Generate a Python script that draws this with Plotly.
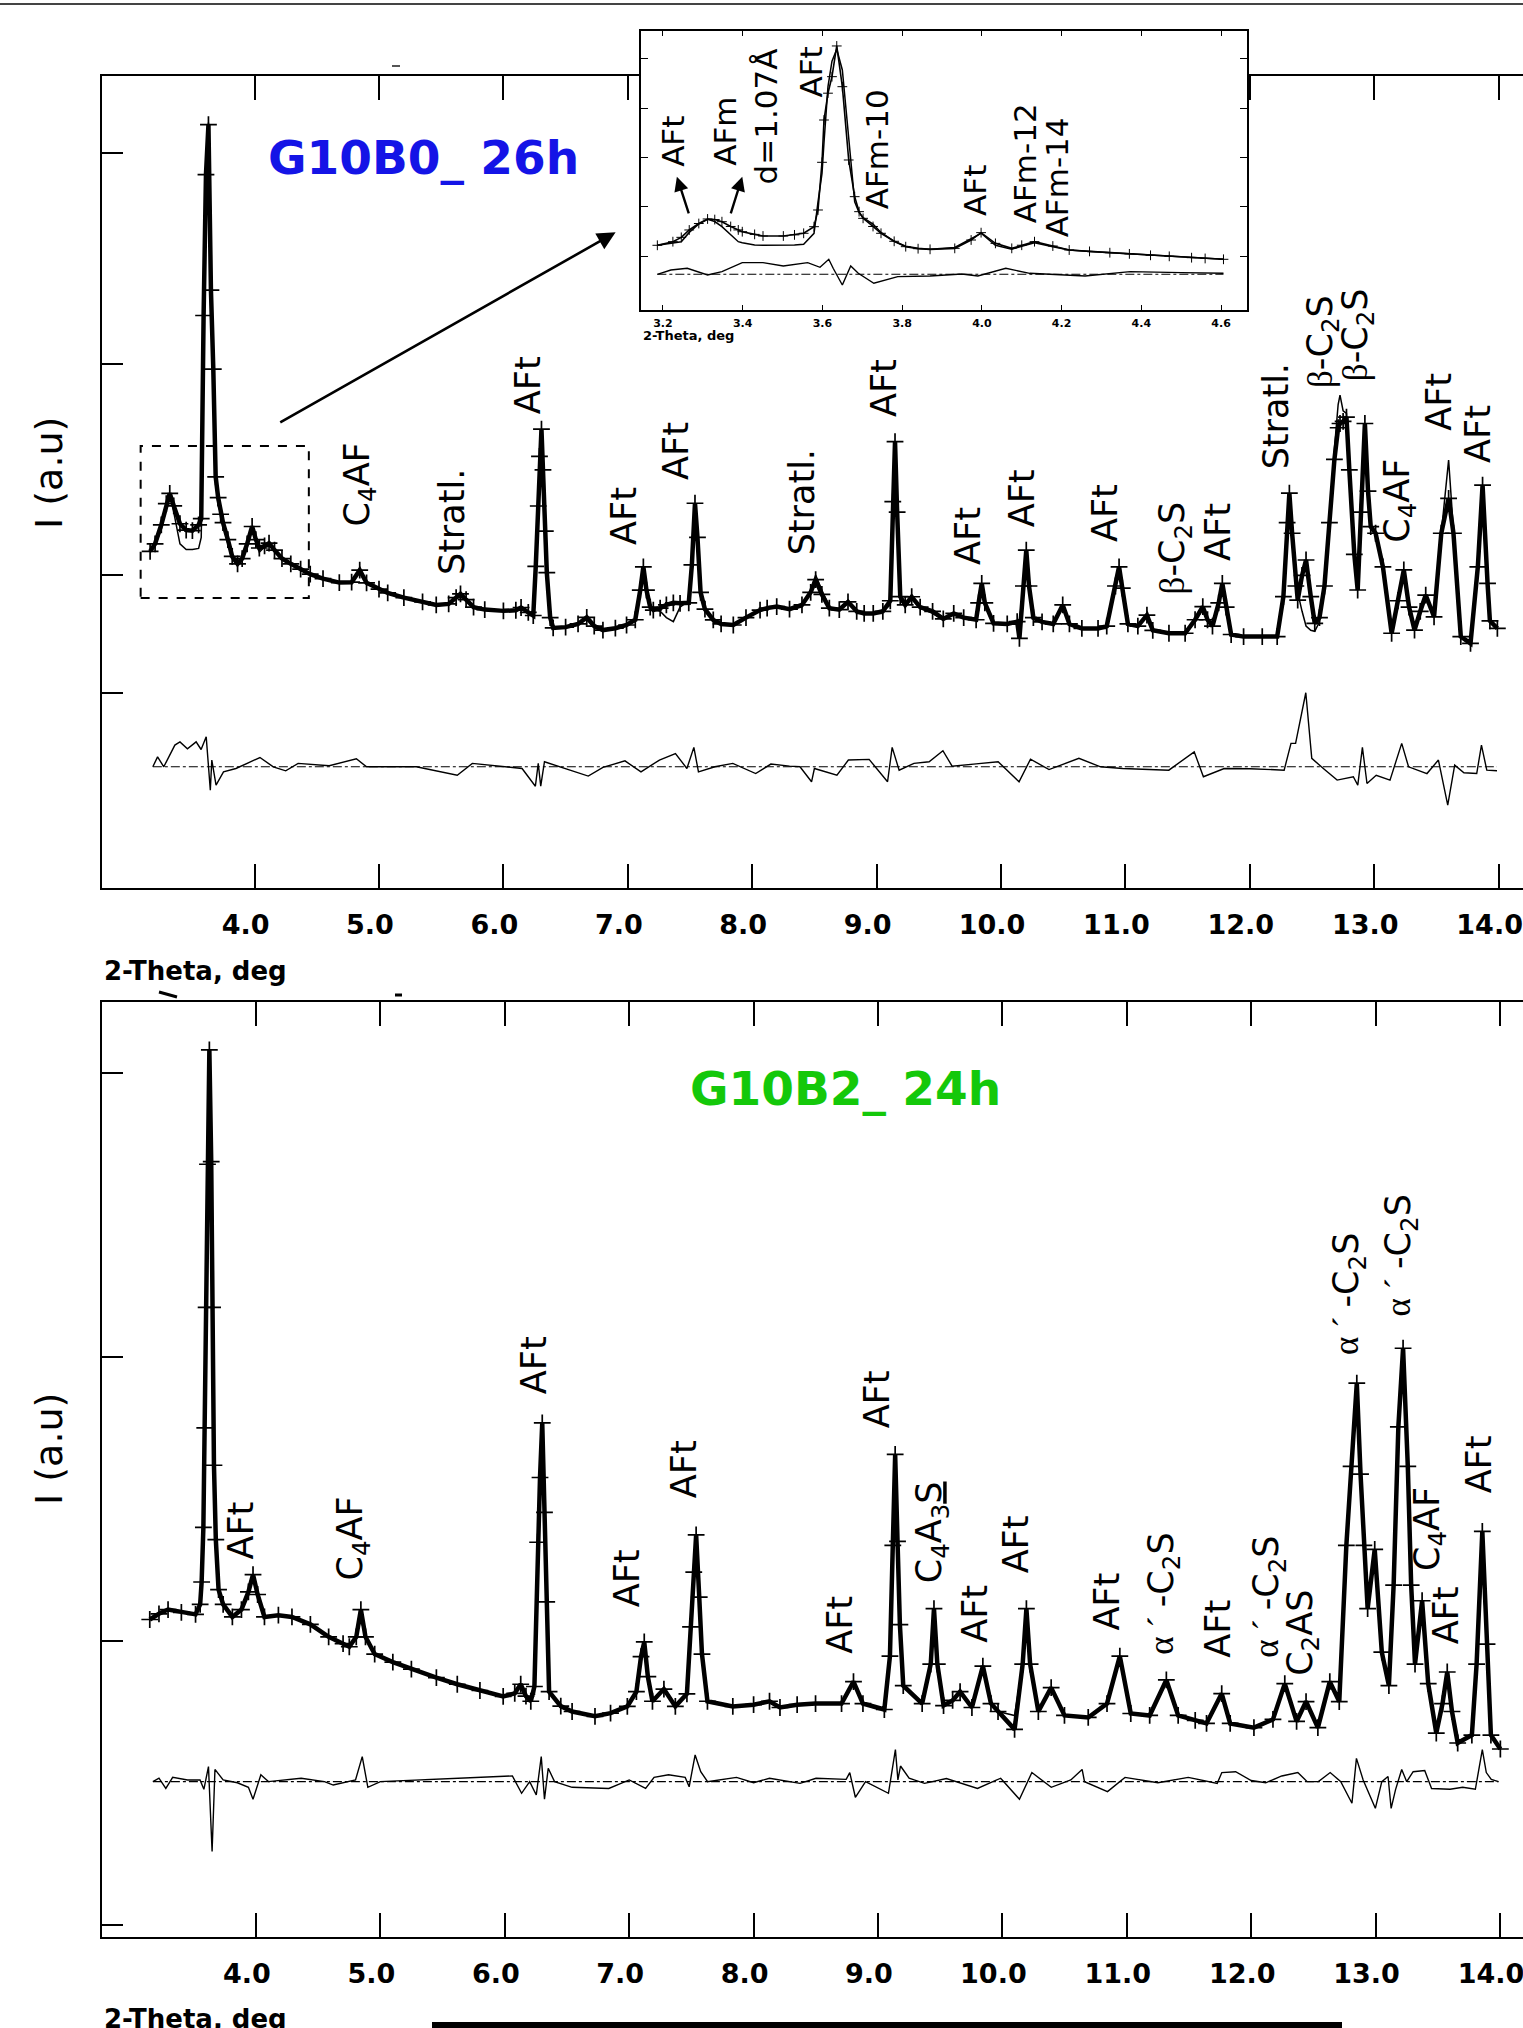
import plotly.graph_objects as go

W, H = 1523, 2028

# ---------------- G10B0_ 26h (upper panel) ----------------
TOP_2THETA = [
    3.16, 3.20, 3.25, 3.29, 3.318, 3.35, 3.40, 3.45, 3.50, 3.55,
    3.571, 3.59, 3.609, 3.629, 3.649, 3.668, 3.687, 3.707, 3.727, 3.746,
    3.785, 3.82, 3.863, 3.90, 3.94, 3.98, 4.01, 4.038, 4.08, 4.116,
    4.16, 4.22, 4.291, 4.37, 4.447, 4.55, 4.681, 4.78, 4.845, 4.90,
    5.00, 5.07, 5.20, 5.35, 5.46, 5.56, 5.62, 5.655, 5.70, 5.76,
    5.85, 6.00, 6.10, 6.142, 6.20, 6.24, 6.26, 6.28, 6.29, 6.306,
    6.318, 6.337, 6.349, 6.376, 6.40, 6.50, 6.60, 6.67, 6.73, 6.80,
    6.90, 6.99, 7.06, 7.10, 7.125, 7.15, 7.18, 7.205, 7.26, 7.31,
    7.366, 7.42, 7.49, 7.515, 7.54, 7.56, 7.585, 7.62, 7.687, 7.75,
    7.848, 7.95, 8.063, 8.12, 8.197, 8.30, 8.40, 8.47, 8.51, 8.56,
    8.62, 8.70, 8.77, 8.84, 8.90, 8.973, 9.05, 9.11, 9.13, 9.148,
    9.165, 9.19, 9.23, 9.282, 9.35, 9.45, 9.536, 9.62, 9.70, 9.80,
    9.82, 9.845, 9.87, 9.94, 10.05, 10.13, 10.148, 10.18, 10.203, 10.225,
    10.26, 10.33, 10.42, 10.496, 10.55, 10.65, 10.78, 10.85, 10.92, 10.949,
    10.975, 11.02, 11.10, 11.173, 11.22, 11.35, 11.48, 11.56, 11.622, 11.66,
    11.70, 11.75, 11.779, 11.81, 11.85, 11.95, 12.10, 12.22, 12.27, 12.30,
    12.318, 12.34, 12.37, 12.385, 12.42, 12.452, 12.49, 12.522, 12.56, 12.60,
    12.64, 12.68, 12.71, 12.725, 12.75, 12.777, 12.80, 12.84, 12.867, 12.89,
    12.925, 12.95, 12.972, 13.011, 13.07, 13.14, 13.19, 13.238, 13.28, 13.324,
    13.37, 13.414, 13.481, 13.539, 13.598, 13.637, 13.696, 13.774, 13.833, 13.871,
    13.911, 13.93, 13.99,
]
TOP_OBS = [
    1114, 1150, 1240, 1340, 1389, 1330, 1245, 1215, 1212, 1240,
    1269, 2232, 2900, 3137, 2352, 1978, 1467, 1369, 1290, 1250,
    1170, 1090, 1055, 1080, 1150, 1232, 1170, 1130, 1140, 1153,
    1120, 1080, 1055, 1030, 1006, 985, 966, 968, 1025, 965,
    935, 917, 895, 875, 860, 865, 895, 913, 885, 850,
    838, 832, 835, 848, 825, 810, 1043, 1329, 1564, 1693,
    1500, 1210, 1013, 800, 751, 755, 770, 801, 760, 741,
    750, 765, 790, 930, 1041, 930, 850, 836, 845, 860,
    870, 868, 870, 1050, 1342, 1180, 920, 840, 789, 770,
    765, 800, 836, 845, 852, 840, 860, 920, 980, 910,
    845, 838, 875, 830, 820, 820, 830, 880, 1350, 1634,
    1300, 900, 860, 899, 850, 830, 794, 820, 800, 790,
    870, 962, 870, 773, 770, 781, 702, 950, 1120, 950,
    800, 780, 770, 860, 770, 749, 749, 760, 950, 1041,
    940, 770, 760, 812, 740, 726, 726, 790, 852, 790,
    760, 870, 962, 850, 720, 710, 710, 710, 900, 1250,
    1390, 1200, 950, 883, 1000, 1073, 900, 773, 800, 950,
    1250, 1550, 1700, 1720, 1730, 1750, 1500, 1100, 931, 1300,
    1720, 1400, 1231, 1200, 1041, 726, 880, 1026, 850, 741,
    830, 907, 804, 1200, 1365, 1200, 710, 678, 1041, 1428,
    962, 785, 749,
]
TOP_CALC = [
    1110, 1140, 1220, 1330, 1385, 1300, 1150, 1123, 1123, 1128,
    1180, 2100, 2850, 3147, 2450, 1900, 1450, 1330, 1300, 1240,
    1150, 1090, 1055, 1075, 1140, 1225, 1160, 1110, 1135, 1150,
    1115, 1075, 1055, 1030, 1006, 985, 966, 965, 1020, 960,
    935, 917, 895, 875, 860, 862, 900, 920, 885, 850,
    838, 832, 835, 850, 825, 810, 1000, 1300, 1550, 1690,
    1480, 1220, 1000, 790, 751, 755, 770, 801, 765, 741,
    750, 765, 790, 920, 1040, 930, 850, 836, 830, 800,
    781, 850, 880, 1040, 1294, 1150, 900, 840, 789, 770,
    765, 800, 836, 845, 852, 840, 850, 930, 1002, 930,
    850, 838, 875, 830, 820, 820, 830, 860, 1300, 1531,
    1280, 880, 860, 890, 845, 820, 790, 820, 800, 790,
    860, 962, 860, 773, 770, 781, 790, 940, 1120, 960,
    800, 780, 770, 860, 770, 749, 749, 760, 940, 1041,
    940, 770, 760, 812, 740, 726, 726, 780, 840, 785,
    760, 860, 962, 850, 720, 710, 710, 710, 880, 1230,
    1326, 1250, 1000, 920, 830, 760, 740, 735, 780, 950,
    1240, 1600, 1810, 1855, 1780, 1768, 1500, 1100, 931, 1250,
    1705, 1400, 1231, 1200, 1041, 726, 870, 1026, 850, 741,
    830, 907, 804, 1200, 1547, 1200, 710, 678, 1041, 1326,
    962, 785, 749,
]
TOP_DIFF_2THETA = [
    3.182, 3.22, 3.27, 3.359, 3.40, 3.46, 3.53, 3.57, 3.611, 3.644,
    3.656, 3.67, 3.69, 3.75, 3.85, 4.043, 4.15, 4.25, 4.35, 4.60,
    4.818, 4.90, 5.30, 5.629, 5.75, 6.15, 6.257, 6.28, 6.30, 6.33,
    6.45, 6.682, 6.80, 6.977, 7.106, 7.254, 7.383, 7.475, 7.531, 7.568,
    7.70, 7.844, 8.028, 8.15, 8.30, 8.384, 8.477, 8.50, 8.681, 8.773,
    8.94, 9.088, 9.125, 9.181, 9.30, 9.422, 9.533, 9.607, 9.80, 9.977,
    10.145, 10.237, 10.386, 10.626, 10.80, 10.978, 11.349, 11.553, 11.627, 11.794,
    12.0, 12.276, 12.331, 12.368, 12.45, 12.498, 12.591, 12.702, 12.832, 12.868,
    12.905, 12.942, 13.016, 13.127, 13.221, 13.276, 13.424, 13.516, 13.591, 13.647,
    13.721, 13.824, 13.862, 13.905, 13.987,
]
TOP_DIFF = [
    0, 47, 0, 103, 118, 85, 118, 82, 142, -111,
    32, -16, -87, -24, -8, 44, 0, -19, 16, 5,
    38, 0, 0, -40, 16, -8, -92, 16, -92, 24,
    0, -44, -3, 28, -24, 32, 63, -8, 92, -24,
    0, 16, -32, 13, 3, 0, -71, -8, -40, 32,
    35, -71, 92, -16, 16, 24, 76, 3, 14, 24,
    -71, 36, -13, 40, 0, -8, -16, 71, -47, -8,
    -9, -16, 111, 111, 351, 40, -8, -63, -47, -87,
    92, -79, -40, -63, 111, 0, -32, 32, -182, 8,
    -28, -32, 103, -16, -19,
]
BETA = "<span style=\"font-family:'Liberation Serif'\">β</span>-C<sub>2</sub>S"
TOP_LABEL_TEXT = ["C<sub>4</sub>AF", "Stratl.", "AFt", "AFt", "AFt", "Stratl.", "AFt", "AFt",
                  "AFt", "AFt", BETA, "AFt", "Stratl.", BETA, BETA, "C<sub>4</sub>AF", "AFt", "AFt"]
TOP_LABEL_X = [4.845, 5.587, 6.198, 6.969, 7.387, 8.398, 9.059, 9.734, 10.171, 10.836,
               11.397, 11.744, 12.209, 12.58, 12.862, 13.206, 13.519, 13.833]
TOP_LABEL_Y = [1430, 1253, 1902, 1282, 1590, 1345, 1888, 1187, 1367, 1296,
               1132, 1206, 1753, 2111, 2139, 1353, 1822, 1670]
TOP_YTICKS = [444, 1000, 2000, 3000]

# ---------------- G10B2_ 24h (lower panel) ----------------
BOT_2THETA = [
    3.146, 3.22, 3.293, 3.40, 3.514, 3.551, 3.563, 3.577, 3.588, 3.599,
    3.61, 3.625, 3.64, 3.651, 3.662, 3.677, 3.699, 3.736, 3.81, 3.883,
    3.939, 3.976, 4.013, 4.068, 4.18, 4.289, 4.437, 4.584, 4.70, 4.75,
    4.806, 4.843, 4.88, 4.954, 5.10, 5.249, 5.45, 5.618, 5.80, 5.987,
    6.08, 6.128, 6.17, 6.209, 6.238, 6.264, 6.283, 6.301, 6.319, 6.337,
    6.356, 6.45, 6.541, 6.725, 6.85, 6.985, 7.058, 7.095, 7.121, 7.15,
    7.187, 7.279, 7.371, 7.464, 7.493, 7.519, 7.538, 7.563, 7.585, 7.629,
    7.833, 8.0, 8.128, 8.212, 8.35, 8.498, 8.707, 8.803, 8.879, 9.051,
    9.096, 9.119, 9.138, 9.157, 9.176, 9.203, 9.355, 9.424, 9.45, 9.477,
    9.527, 9.60, 9.66, 9.755, 9.843, 9.908, 9.965, 10.098, 10.163, 10.193,
    10.223, 10.289, 10.392, 10.499, 10.69, 10.841, 10.944, 11.032, 11.184, 11.318,
    11.413, 11.55, 11.641, 11.763, 11.831, 12.022, 12.175, 12.27, 12.365, 12.441,
    12.536, 12.632, 12.708, 12.765, 12.803, 12.849, 12.879, 12.906, 12.936, 12.993,
    13.05, 13.107, 13.145, 13.183, 13.221, 13.259, 13.286, 13.317, 13.374, 13.423,
    13.488, 13.538, 13.576, 13.614, 13.66, 13.774, 13.812, 13.858, 13.896, 13.927,
    14.003,
]
BOT_OBS = [
    1075, 1095, 1110, 1100, 1093, 1128, 1207, 1399, 1750, 2174,
    2678, 3081, 2687, 2174, 1618, 1356, 1180, 1128, 1084, 1110,
    1172, 1233, 1163, 1084, 1090, 1084, 1058, 1014, 990, 979,
    1014, 1110, 1014, 953, 925, 900, 870, 847, 825, 804,
    815, 847, 805, 787, 839, 1347, 1575, 1767, 1452, 1137,
    821, 770, 751, 734, 745, 769, 821, 944, 996, 874,
    787, 830, 769, 813, 1049, 1242, 1373, 1154, 953, 787,
    769, 775, 787, 765, 775, 779, 779, 856, 779, 758,
    946, 1336, 1656, 1350, 1057, 842, 779, 918, 1113, 918,
    772, 790, 821, 765, 911, 779, 751, 688, 918, 1113,
    918, 751, 835, 737, 730, 779, 946, 744, 737, 862,
    737, 720, 709, 814, 709, 694, 723, 849, 716, 786,
    694, 856, 786, 1336, 1614, 1907, 1587, 1336, 1113, 1322,
    960, 842, 1196, 1753, 2030, 1614, 1196, 918, 1141, 849,
    675, 779, 890, 751, 640, 668, 918, 1385, 988, 668,
    619,
]
BOT_CALC = [
    1075, 1095, 1110, 1100, 1093, 1128, 1207, 1399, 1750, 2174,
    2678, 3073, 2687, 2174, 1618, 1356, 1180, 1128, 1084, 1110,
    1172, 1233, 1163, 1084, 1090, 1084, 1058, 1014, 990, 979,
    1014, 1075, 1014, 953, 925, 900, 870, 847, 825, 804,
    815, 847, 805, 787, 839, 1347, 1575, 1627, 1452, 1137,
    821, 770, 751, 734, 745, 769, 821, 944, 996, 874,
    787, 830, 769, 813, 1049, 1242, 1277, 1154, 953, 787,
    769, 775, 787, 765, 775, 779, 779, 856, 779, 758,
    946, 1336, 1538, 1350, 1057, 842, 779, 918, 1078, 918,
    772, 790, 821, 765, 911, 779, 751, 737, 918, 1092,
    918, 751, 835, 737, 730, 779, 946, 744, 737, 862,
    737, 720, 709, 814, 709, 694, 723, 849, 716, 786,
    694, 856, 786, 1336, 1614, 1837, 1587, 1336, 1113, 1322,
    960, 842, 1196, 1753, 2018, 1614, 1196, 918, 1141, 849,
    675, 779, 890, 751, 640, 668, 918, 1266, 988, 668,
    619,
]
BOT_DIFF_2THETA = [
    3.171, 3.22, 3.275, 3.33, 3.45, 3.55, 3.581, 3.618, 3.647, 3.67,
    3.736, 3.85, 3.939, 3.976, 4.039, 4.10, 4.363, 4.55, 4.621, 4.80,
    4.854, 4.899, 5.0, 5.803, 6.061, 6.135, 6.20, 6.253, 6.293, 6.319,
    6.349, 6.40, 6.541, 6.836, 7.0, 7.132, 7.20, 7.316, 7.45, 7.482,
    7.53, 7.575, 7.63, 7.863, 8.0, 8.128, 8.373, 8.502, 8.744, 8.773,
    8.818, 8.90, 9.084, 9.14, 9.16, 9.181, 9.25, 9.374, 9.55, 9.80,
    9.986, 10.137, 10.237, 10.393, 10.55, 10.641, 10.66, 10.845, 10.986, 11.25,
    11.494, 11.727, 11.764, 11.875, 12.0, 12.117, 12.246, 12.375, 12.45, 12.54,
    12.635, 12.72, 12.81, 12.846, 12.90, 12.998, 13.05, 13.1, 13.125, 13.16,
    13.21, 13.25, 13.302, 13.395, 13.45, 13.599, 13.70, 13.802, 13.858, 13.89,
    13.93, 13.988,
]
BOT_DIFF = [
    0, 12, -24, 15, 6, 6, -27, 53, -246, 43,
    6, -4, -20, -62, 24, 0, 12, 0, -12, 6,
    88, -20, 0, 15, 20, -41, 0, -47, 88, -62,
    47, 0, -20, -24, 6, -24, 15, 24, 15, -18,
    94, 35, 0, 15, -4, 12, -6, 12, 8, 32,
    -55, 0, -41, 113, 6, 55, 12, -6, 11, -24,
    12, -62, 32, -20, 6, 43, 0, -35, 15, -4,
    15, -6, 32, 35, 4, -4, 20, 32, 0, 0,
    32, 0, -76, 82, 6, -94, 0, 18, -94, -29,
    43, 0, 35, 39, -24, -27, -20, -27, 113, 32,
    8, 0,
]
ALPHA = "<span style=\"font-family:'Liberation Serif'\">α ´ </span>-C<sub>2</sub>S"
C4A3S = "C<sub>4</sub>A<sub>3</sub><span style=\"text-decoration:underline\">S</span>"
BOT_LABEL_TEXT = ["AFt", "C<sub>4</sub>AF", "AFt", "AFt", "AFt", "AFt", "AFt", C4A3S, "AFt", "AFt",
                  "AFt", ALPHA, "AFt", ALPHA, "C<sub>2</sub>AS", ALPHA, ALPHA, "C<sub>4</sub>AF", "AFt", "AFt"]
BOT_LABEL_X = [3.883, 4.779, 6.236, 6.984, 7.44, 8.688, 8.994, 9.432, 9.774, 10.108,
               10.841, 11.298, 11.736, 12.144, 12.411, 12.784, 13.203, 13.432, 13.565, 13.831]
BOT_LABEL_Y = [1390, 1360, 1971, 1221, 1604, 1057, 1851, 1381, 1096, 1339,
               1138, 1165, 1044, 1155, 1029, 2220, 2356, 1395, 1089, 1621]
BOT_YTICKS = [0, 1000, 2000, 3000]

# ---------------- inset (zoom of 3.2-4.6 deg, G10B0) ----------------
INSET_2THETA = [
    3.186, 3.225, 3.246, 3.266, 3.290, 3.312, 3.330, 3.348, 3.370, 3.389,
    3.399, 3.43, 3.451, 3.502, 3.53, 3.553, 3.579, 3.589, 3.599, 3.604,
    3.614, 3.624, 3.636, 3.65, 3.666, 3.681, 3.692, 3.702, 3.727, 3.747,
    3.78, 3.809, 3.84, 3.87, 3.932, 3.973, 3.998, 4.034, 4.075, 4.10,
    4.132, 4.178, 4.219, 4.27, 4.321, 4.37, 4.423, 4.47, 4.526, 4.56,
    4.606,
]
INSET_OBS = [
    219, 292, 380, 529, 660, 752, 740, 697, 600, 530,
    494, 440, 407, 407, 430, 462, 596, 934, 1900, 2757,
    3300, 3635, 4257, 3432, 1947, 1204, 900, 765, 600, 462,
    300, 191, 150, 137, 157, 326, 475, 258, 157, 220,
    292, 204, 123, 95, 69, 45, 16, -5, -32, -48,
    -65,
]
INSET_CALC = [
    219, 260, 292, 480, 650, 745, 700, 596, 430, 292,
    270, 225, 222, 219, 225, 240, 462, 1100, 1677, 2300,
    3432, 3950, 4189, 3770, 2400, 1100, 880, 780, 650, 480,
    300, 200, 160, 137, 175, 350, 462, 220, 140, 200,
    272, 191, 123, 95, 69, 45, 16, -5, -32, -48,
    -65,
]
INSET_DIFF_2THETA = [3.186, 3.22, 3.261, 3.312, 3.348, 3.399, 3.451, 3.502, 3.563, 3.594,
                     3.616, 3.627, 3.65, 3.671, 3.69, 3.729, 3.789, 3.87, 3.95, 3.99,
                     4.06, 4.12, 4.259, 4.372, 4.50, 4.606]
INSET_DIFF = [0, 87, 122, -14, 55, 237, 237, 168, 237, 142,
              304, 122, -217, 168, 20, -182, -47, -34, 6, -34,
              122, 20, -34, 55, 34, 20]
INSET_LABEL_TEXT = ["AFt", "AFm", "d=1.07Å", "AFt", "AFm-10", "AFt", "AFm-12", "AFm-14"]
INSET_LABEL_X = [3.225, 3.356, 3.458, 3.571, 3.737, 3.983, 4.108, 4.188]
INSET_LABEL_Y = [2332, 2520, 2824, 3736, 2166, 1323, 1880, 1592]
INSET_XTICKS = [3.2, 3.4, 3.6, 3.8, 4.0, 4.2, 4.4, 4.6]
INSET_YTICKS = [0, 1000, 2000, 3000, 4000]

MAIN_XTICKS = [4, 5, 6, 7, 8, 9, 10, 11, 12, 13, 14]

# offsets at which the difference curves are drawn
TOP_DIFF_OFFSET = 93
BOT_DIFF_OFFSET = 504
INSET_DIFF_OFFSET = -369

BLACK = "#000000"
fig = go.Figure()


def add_pattern(xs, obs, calc, dxs, diff, off, xa, ya, msize, obs_lw, mlw):
    fig.add_trace(go.Scatter(
        x=xs, y=obs, mode="lines+markers", xaxis=xa, yaxis=ya,
        line=dict(color=BLACK, width=obs_lw),
        marker=dict(symbol="cross-thin", size=msize, color=BLACK,
                    line=dict(color=BLACK, width=mlw)),
        hoverinfo="skip"))
    fig.add_trace(go.Scatter(
        x=xs, y=calc, mode="lines", xaxis=xa, yaxis=ya,
        line=dict(color=BLACK, width=1.5), hoverinfo="skip"))
    fig.add_trace(go.Scatter(
        x=[dxs[0], dxs[-1]], y=[off, off], mode="lines", xaxis=xa, yaxis=ya,
        line=dict(color=BLACK, width=1.1, dash="dashdot"), hoverinfo="skip"))
    fig.add_trace(go.Scatter(
        x=dxs, y=[d + off for d in diff], mode="lines", xaxis=xa, yaxis=ya,
        line=dict(color=BLACK, width=1.4), hoverinfo="skip"))


add_pattern(TOP_2THETA, TOP_OBS, TOP_CALC, TOP_DIFF_2THETA, TOP_DIFF, TOP_DIFF_OFFSET,
            "x", "y", 12, 4.5, 1.7)
add_pattern(BOT_2THETA, BOT_OBS, BOT_CALC, BOT_DIFF_2THETA, BOT_DIFF, BOT_DIFF_OFFSET,
            "x2", "y2", 12, 4.5, 1.7)
add_pattern(INSET_2THETA, INSET_OBS, INSET_CALC, INSET_DIFF_2THETA, INSET_DIFF, INSET_DIFF_OFFSET,
            "x3", "y3", 7, 1.6, 1.0)

TICKFONT = dict(family="DejaVu Sans", size=27, color=BLACK, weight="bold")
XDOM = [102 / W, 1.0]


def main_xaxis(rng, anchor):
    return dict(domain=XDOM, range=rng, anchor=anchor, tickmode="array",
                tickvals=MAIN_XTICKS, ticktext=[f"{v:.1f}" for v in MAIN_XTICKS],
                ticks="inside", ticklen=24, tickwidth=2, tickcolor=BLACK,
                showline=True, linewidth=2, linecolor=BLACK, mirror="ticks",
                showgrid=False, zeroline=False, tickfont=TICKFONT,
                ticklabelshift=-9, ticklabelstandoff=12, ticklabeloverflow="allow")


def main_yaxis(dom, rng, anchor, tv):
    return dict(domain=dom, range=rng, anchor=anchor, tickmode="array", tickvals=tv,
                ticks="inside", ticklen=21, tickwidth=2, tickcolor=BLACK,
                showticklabels=False, showline=True, linewidth=2, linecolor=BLACK,
                showgrid=False, zeroline=False)


fig.update_layout(
    width=W, height=H, autosize=False,
    margin=dict(l=0, r=0, t=0, b=0, pad=0),
    paper_bgcolor="white", plot_bgcolor="white", showlegend=False,
    xaxis=main_xaxis([2.7733, 14.196], "y"),
    yaxis=main_yaxis([1 - 887.7 / H, 1 - 76 / H], [-480, 3367], "x", TOP_YTICKS),
    xaxis2=main_xaxis([2.762, 14.185], "y2"),
    yaxis2=main_yaxis([1 - 1936.7 / H, 1 - 1001.5 / H], [-42, 3251], "x2", BOT_YTICKS),
    xaxis3=dict(domain=[641 / W, 1247 / W], range=[3.145, 4.665], anchor="y3",
                tickmode="array", tickvals=INSET_XTICKS,
                ticktext=[f"{v:.1f}" for v in INSET_XTICKS],
                ticks="inside", ticklen=5, tickwidth=1.2, tickcolor=BLACK,
                showline=True, linewidth=1.5, linecolor=BLACK, mirror="ticks",
                showgrid=False, zeroline=False,
                tickfont=dict(family="DejaVu Sans", size=11, color=BLACK, weight="bold"),
                ticklabelstandoff=2),
    yaxis3=dict(domain=[1 - 310 / H, 1 - 31 / H], range=[-1092, 4560], anchor="x3",
                tickmode="array", tickvals=INSET_YTICKS,
                ticks="inside", ticklen=7, tickwidth=1.2, tickcolor=BLACK,
                showticklabels=False, showline=True, linewidth=1.5, linecolor=BLACK,
                mirror="ticks", showgrid=False, zeroline=False),
)

LABEL_FONT = dict(family="DejaVu Sans", size=35, color=BLACK)
for t, x, y in zip(TOP_LABEL_TEXT, TOP_LABEL_X, TOP_LABEL_Y):
    fig.add_annotation(text=t, x=x, y=y, xref="x", yref="y", textangle=-90,
                       xanchor="center", yanchor="middle", showarrow=False, font=LABEL_FONT)
for t, x, y in zip(BOT_LABEL_TEXT, BOT_LABEL_X, BOT_LABEL_Y):
    fig.add_annotation(text=t, x=x, y=y, xref="x2", yref="y2", textangle=-90,
                       xanchor="center", yanchor="middle", showarrow=False, font=LABEL_FONT)
for t, x, y in zip(INSET_LABEL_TEXT, INSET_LABEL_X, INSET_LABEL_Y):
    fig.add_annotation(text=t, x=x, y=y, xref="x3", yref="y3", textangle=-90,
                       xanchor="center", yanchor="middle", showarrow=False,
                       font=dict(family="DejaVu Sans", size=31, color=BLACK))

# arrows inside the inset
fig.add_annotation(x=3.235, y=1609, ax=3.266, ay=833, xref="x3", yref="y3",
                   axref="x3", ayref="y3", text="", showarrow=True,
                   arrowhead=2, arrowsize=1.2, arrowwidth=2.4, arrowcolor=BLACK)
fig.add_annotation(x=3.399, y=1609, ax=3.369, ay=833, xref="x3", yref="y3",
                   axref="x3", ayref="y3", text="", showarrow=True,
                   arrowhead=2, arrowsize=1.2, arrowwidth=2.4, arrowcolor=BLACK)
# arrow from the boxed region to the inset
fig.add_annotation(x=6.902, y=2626, ax=4.194, ay=1721, xref="x", yref="y",
                   axref="x", ayref="y", text="", showarrow=True,
                   arrowhead=2, arrowsize=1.4, arrowwidth=2.6, arrowcolor=BLACK)

# titles
fig.add_annotation(text="G10B0_ 26h", x=423 / W, y=1 - 158 / H, xref="paper", yref="paper",
                   xanchor="center", yanchor="middle", showarrow=False,
                   font=dict(family="DejaVu Sans", size=47, color="#1414e6", weight="bold"))
fig.add_annotation(text="G10B2_ 24h", x=845.5 / W, y=1 - 1088 / H, xref="paper", yref="paper",
                   xanchor="center", yanchor="middle", showarrow=False,
                   font=dict(family="DejaVu Sans", size=47, color="#14c80a", weight="bold"))
for yc in (1 - 473 / H, 1 - 1449 / H):
    fig.add_annotation(text="I (a.u)", x=49 / W, y=yc, xref="paper", yref="paper",
                       xanchor="center", yanchor="middle", textangle=-90, showarrow=False,
                       font=dict(family="DejaVu Sans", size=38, color=BLACK))
for yc in (1 - 971 / H, 1 - 2019 / H):
    fig.add_annotation(text="2-Theta, deg", x=102 / W, y=yc, xref="paper", yref="paper",
                       xanchor="left", yanchor="middle", showarrow=False,
                       font=dict(family="DejaVu Sans", size=26, color=BLACK, weight="bold"))
fig.add_annotation(text="2-Theta, deg", x=641 / W, y=1 - 336 / H, xref="paper", yref="paper",
                   xanchor="left", yanchor="middle", showarrow=False,
                   font=dict(family="DejaVu Sans", size=13, color=BLACK, weight="bold"))

# dashed box marking the zoomed region
fig.add_shape(type="rect", xref="x", yref="y", x0=3.084, x1=4.436, y0=893, y1=1613,
              line=dict(color=BLACK, width=2, dash="dash"))
# page frame remnants
fig.add_shape(type="line", xref="paper", yref="paper", x0=0, x1=1, y0=1 - 4 / H, y1=1 - 4 / H,
              line=dict(color="#444444", width=2))
fig.add_shape(type="rect", xref="paper", yref="paper", x0=432 / W, x1=1342 / W, y0=0, y1=6 / H,
              line=dict(width=0), fillcolor=BLACK)
fig.add_shape(type="line", xref="paper", yref="paper", x0=392 / W, x1=400 / W,
              y0=1 - 66 / H, y1=1 - 66 / H, line=dict(color="#555555", width=2))
fig.add_shape(type="line", xref="paper", yref="paper", x0=159 / W, x1=177 / W,
              y0=1 - 992 / H, y1=1 - 997 / H, line=dict(color=BLACK, width=3))
fig.add_shape(type="line", xref="paper", yref="paper", x0=395 / W, x1=402 / W,
              y0=1 - 995 / H, y1=1 - 995 / H, line=dict(color=BLACK, width=3))

fig.write_html(
    "out.html",
    config={"displayModeBar": False},
    post_script="document.body.style.margin='0';document.body.style.overflow='hidden';",
)
